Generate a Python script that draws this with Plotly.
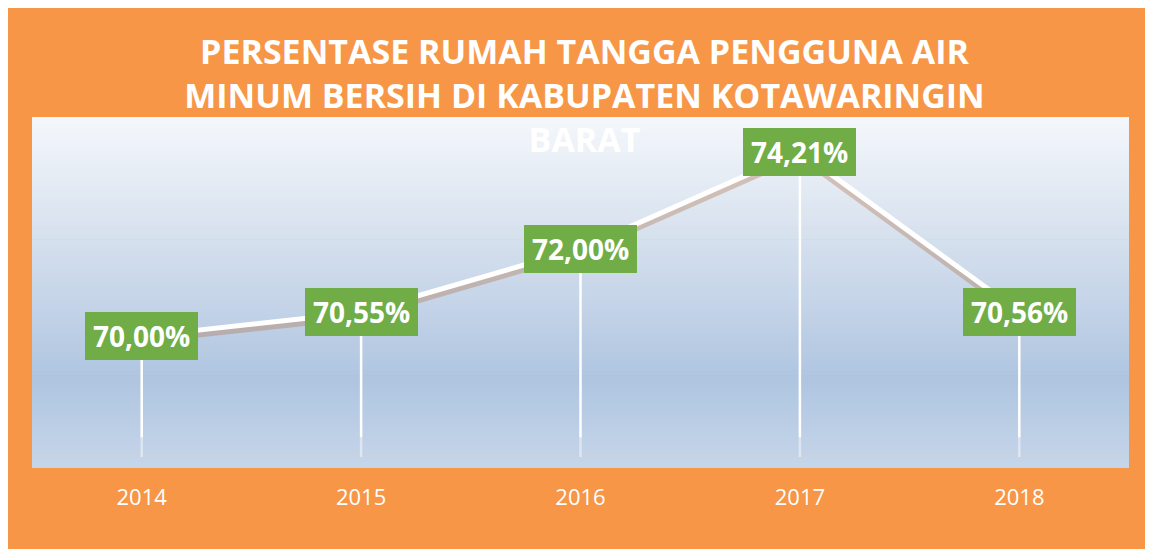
import plotly.graph_objects as go

# ---- data ----
years = ["2014", "2015", "2016", "2017", "2018"]
values = [70.00, 70.55, 72.00, 74.21, 70.56]
title_lines = ["PERSENTASE RUMAH TANGGA PENGGUNA AIR",
               "MINUM BERSIH DI KABUPATEN KOTAWARINGIN",
               "BARAT"]

Y_MIN, Y_MAX = 67, 75
ORANGE = "#F79646"
GREEN = "#70AD47"
FONT = "Open Sans"


def fmt(v):
    return f"{v:.2f}".replace(".", ",") + "%"


idx = list(range(len(years)))

fig = go.Figure()

# drop lines (solid part + fading tail)
dx, dy, fx, fy = [], [], [], []
for i, v in zip(idx, values):
    dx += [i, i, None]
    dy += [v, Y_MIN + 0.7, None]
    fx += [i, i, None]
    fy += [Y_MIN + 0.7, Y_MIN + 0.25, None]
fig.add_trace(go.Scatter(x=dx, y=dy, mode="lines",
                         line=dict(color="white", width=2.5),
                         hoverinfo="skip", showlegend=False))
fig.add_trace(go.Scatter(x=fx, y=fy, mode="lines",
                         line=dict(color="rgba(255,255,255,0.45)", width=2.5),
                         hoverinfo="skip", showlegend=False))

# soft shadow under the line
fig.add_trace(go.Scatter(x=idx, y=[v - 0.09 for v in values], mode="lines",
                         line=dict(color="rgba(175,120,85,0.38)", width=7),
                         hoverinfo="skip", showlegend=False))
# main line
fig.add_trace(go.Scatter(x=idx, y=values, mode="lines",
                         line=dict(color="white", width=5),
                         showlegend=False))

# data labels
for i, v in zip(idx, values):
    fig.add_annotation(x=i, y=v, xref="x", yref="y", text=f"<b>{fmt(v)}</b>",
                       showarrow=False, bgcolor=GREEN, width=105, height=40,
                       borderpad=4, borderwidth=0,
                       font=dict(family=FONT, size=28, color="white"))

# gradient for plot area
stops = [(0.0, (0xF5, 0xF8, 0xFC)), (0.28, (0xDC, 0xE5, 0xF0)),
         (0.56, (0xC2, 0xD2, 0xE7)), (0.75, (0xAF, 0xC5, 0xE0)),
         (1.0, (0xC6, 0xD6, 0xEA))]


def col(t):
    for (t0, c0), (t1, c1) in zip(stops[:-1], stops[1:]):
        if t0 <= t <= t1:
            f = (t - t0) / (t1 - t0)
            return "rgb({},{},{})".format(*[round(a + (b - a) * f) for a, b in zip(c0, c1)])
    return "rgb({},{},{})".format(*stops[-1][1])


shapes = []
N = 80
for k in range(N):
    t0 = k / N
    t1 = (k + 1) / N
    shapes.append(dict(type="rect", xref="x domain", yref="y domain",
                       x0=0, x1=1, y0=1 - t1, y1=min(1, 1 - t0 + 0.002),
                       fillcolor=col((t0 + t1) / 2), line=dict(width=0),
                       layer="below"))

fig.update_layout(
    width=1153, height=549,
    margin=dict(l=24, r=32, t=109, b=89),
    paper_bgcolor=ORANGE,
    plot_bgcolor="rgba(0,0,0,0)",
    shapes=shapes,
    title=dict(text="<br>".join(title_lines), x=0.5, xanchor="center",
               xref="container", yref="container", y=0.898, yanchor="top",
               font=dict(family=FONT, size=34, color="white", weight="bold")),
    xaxis=dict(type="linear", range=[-0.5, 4.5], showgrid=False,
               zeroline=False, showline=False, ticks="",
               tickmode="array", tickvals=idx, ticktext=years,
               ticklabelstandoff=14,
               tickfont=dict(family=FONT, size=22, color="white")),
    yaxis=dict(range=[Y_MIN, Y_MAX], visible=False, showgrid=False),
    showlegend=False,
)

fig.write_html("out.html")
